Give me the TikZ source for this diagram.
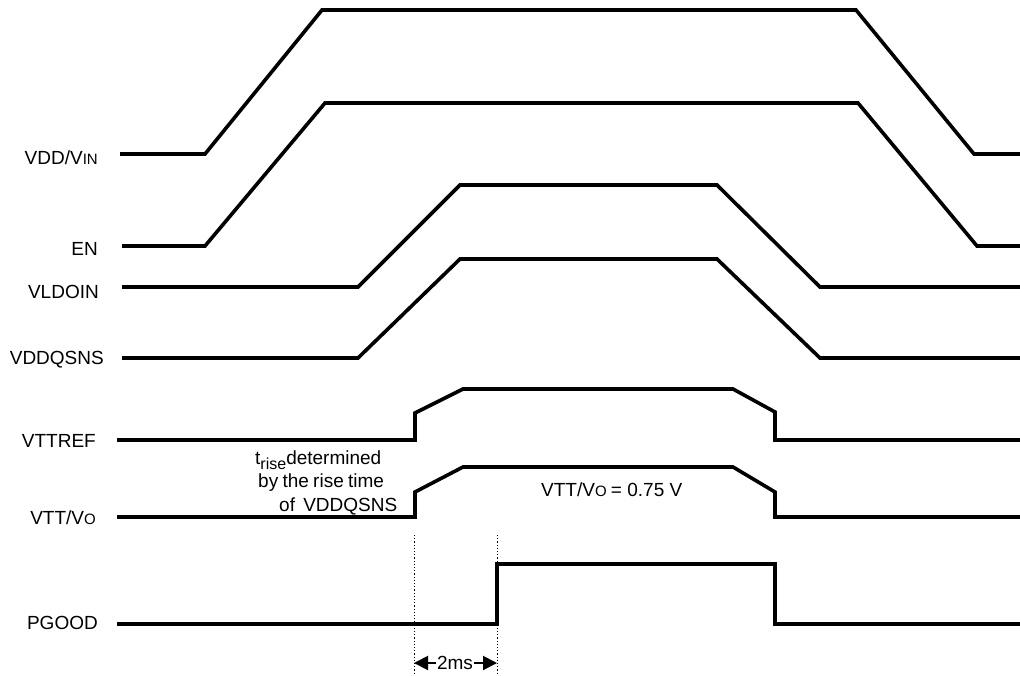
\documentclass[tikz,border=0pt]{standalone}
\usepackage{fontspec}
\setmainfont{Liberation Sans}
\usetikzlibrary{arrows.meta}
\newcommand\smallcap[1]{{\fontsize{15}{18}\selectfont #1}}
\newcommand\subtxt[1]{\raisebox{-5pt}{\fontsize{16}{18}\selectfont #1}}
\tikzset{
  wave/.style={line width=3.6pt, line join=miter, line cap=butt},
  siglabel/.style={anchor=base east, inner sep=0pt, font=\fontsize{19}{23}\selectfont},
  note/.style={anchor=base west, inner sep=0pt, font=\fontsize{19}{23}\selectfont},
  guide/.style={line width=0.9pt, dash pattern=on 1.2pt off 2pt},
  dimarrow/.style={line width=2pt, -{Triangle[length=14pt,width=14pt]}}
}
\begin{document}
\begin{tikzpicture}[x=1pt,y=-1pt]
\useasboundingbox (0,0) rectangle (1020,675);
% labels
\node[siglabel] (lvdd) at (98,164.5) {VDD/V\smallcap{IN}};
\node[siglabel] (len) at (98,255) {EN};
\node[siglabel] (lvldo) at (99,298) {VLDOIN};
\node[siglabel] (lvddq) at (104,364) {VDDQSNS};
\node[siglabel] (lvttref) at (96,447.5) {VTTREF};
\node[siglabel] (lvtt) at (96,524) {VTT/V\smallcap{O}};
\node[siglabel] (lpg) at (98,629) {PGOOD};
% waveforms
\draw[wave] (120,154) -- (205,154) -- (322,10) -- (856,10) -- (974,154) -- (1020,154);
\draw[wave] (122,246) -- (205,246) -- (325,103) -- (858,103) -- (977,246) -- (1020,246);
\draw[wave] (122,287) -- (358,287) -- (460,185) -- (717,185) -- (820,287) -- (1020,287);
\draw[wave] (122,358) -- (358,358) -- (460,259) -- (717,259) -- (820,358) -- (1020,358);
\draw[wave] (117,440) -- (415,440) -- (415,413) -- (463,389) -- (733,389) -- (775,412) -- (775,440) -- (1020,440);
\draw[wave] (117,517) -- (415,517) -- (415,492) -- (463,467) -- (733,467) -- (775,492) -- (775,517) -- (1020,517);
\draw[wave] (117,624) -- (497,624) -- (497,564) -- (775,564) -- (775,624) -- (1020,624);
% annotation
\node[note] (n1) at (255,464) {t\subtxt{rise}determined};
\node[note] (n2) at (258,487) {by\hspace{-1pt} the\hspace{-1pt} rise\hspace{-1pt} time};
\node[note] (n3) at (279,511) {of\hspace{3pt} VDDQSNS};
\node[note] (vttval) at (541,496) {VTT/V\smallcap{O}\hspace{-1pt} = 0.75 V};
% timing
\coordinate (g1t) at (414,535);
\coordinate (g1b) at (414,675);
\coordinate (g2t) at (497,535);
\coordinate (g2b) at (497,675);
\draw[guide] (g1t) -- (g1b);
\draw[guide] (g2t) -- (g2b);
\node[inner sep=0.5pt, font=\fontsize{19}{23}\selectfont] (tms) at (455,663) {2ms};
\coordinate (a1) at (414,663);
\coordinate (a2) at (497,663);
\draw[dimarrow] (tms.west) -- (a1);
\draw[dimarrow] (tms.east) -- (a2);
\end{tikzpicture}
\end{document}
